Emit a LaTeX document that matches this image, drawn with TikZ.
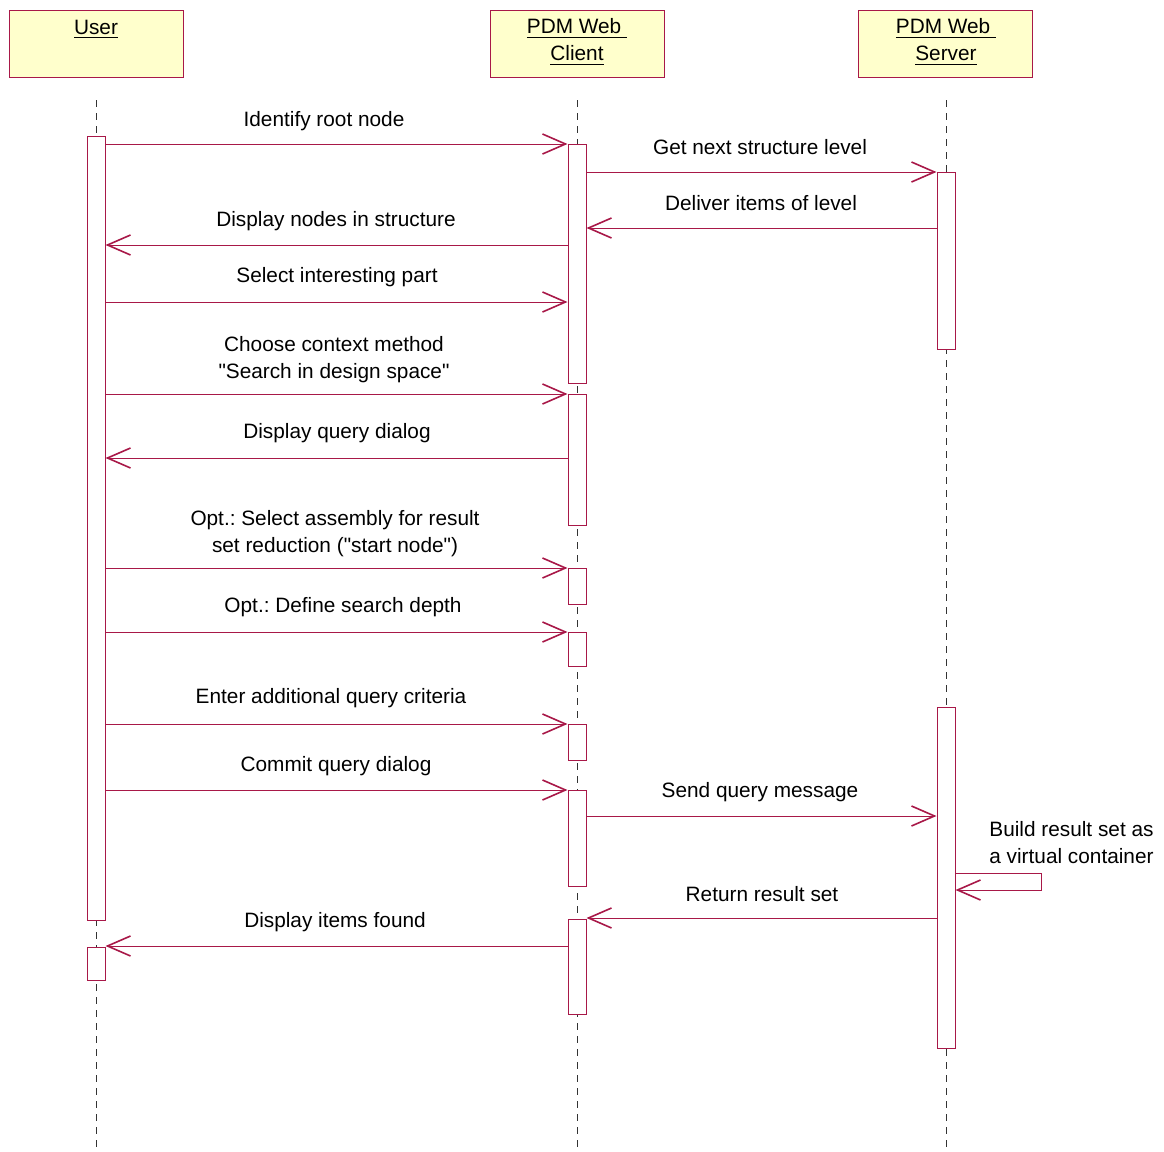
\documentclass[tikz,border=0pt]{standalone}
\usepackage{fontspec}
\setmainfont{Liberation Sans}
\usetikzlibrary{arrows.meta,fit}
\definecolor{umlred}{RGB}{168,24,72}
\definecolor{umlyellow}{RGB}{255,255,204}
\frenchspacing
\begin{document}
\begin{tikzpicture}[x=0.5pt, y=-0.5pt,
		every node/.style={font=\fontsize{10.4}{13.5}\selectfont},
		actor/.style={draw=umlred, fill=umlyellow, line width=0.5pt, inner sep=0pt},
		actbar/.style={draw=umlred, fill=white, line width=0.5pt, inner sep=0pt},
		life/.style={draw=black!80, line width=0.5pt, dash pattern=on 3.5pt off 3pt},
		msg/.style={draw=umlred, line width=0.5pt, -{Straight Barb[length=11.5pt, width=10pt, line width=0.8pt]}},
		msglbl/.style={align=center, inner sep=0pt}]
		\useasboundingbox (0,0) rectangle (1164,1152);
		\node[actor, fit={(9,10) (183,77)}] (user) {};
		\node[actor, fit={(490,10) (664,77)}] (client) {};
		\node[actor, fit={(858,10) (1032,77)}] (server) {};
		\node[msglbl] (userlbl) at (96,29) {\underline{User}};
		\node[msglbl] (clientlbl) at (577,42) {\underline{PDM Web\ }\\\underline{Client}};
		\node[msglbl] (serverlbl) at (946,42) {\underline{PDM Web\ }\\\underline{Server}};
		\draw[life] (96,100) -- (96,1152);
		\draw[life] (577,100) -- (577,1152);
		\draw[life] (946,100) -- (946,1152);
		\node[actbar, fit={(87,136) (105,920)}] (u1) {};
		\node[actbar, fit={(87,947) (105,980)}] (u2) {};
		\node[actbar, fit={(568,144) (586,383)}] (c1) {};
		\node[actbar, fit={(568,394) (586,525)}] (c2) {};
		\node[actbar, fit={(568,568) (586,604)}] (c3) {};
		\node[actbar, fit={(568,632) (586,666)}] (c4) {};
		\node[actbar, fit={(568,724) (586,760)}] (c5) {};
		\node[actbar, fit={(568,790) (586,886)}] (c6) {};
		\node[actbar, fit={(568,919) (586,1014)}] (c7) {};
		\node[actbar, fit={(937,172) (955,349)}] (s1) {};
		\node[actbar, fit={(937,707) (955,1048)}] (s2) {};
		\draw[msg] (u1.east |- 0,144) -- (c1.west |- 0,144);
		\node[msglbl] (m1) at (324,121) {Identify root node};
		\draw[msg] (c1.east |- 0,172) -- (s1.west |- 0,172);
		\node[msglbl] (m2) at (760,147) {Get next structure level};
		\draw[msg] (s1.west |- 0,228) -- (c1.east |- 0,228);
		\node[msglbl] (m3) at (761,203) {Deliver items of level};
		\draw[msg] (c1.west |- 0,245) -- (u1.east |- 0,245);
		\node[msglbl] (m4) at (336,221) {Display nodes in structure};
		\draw[msg] (u1.east |- 0,302) -- (c1.west |- 0,302);
		\node[msglbl] (m5) at (337,277) {Select interesting part};
		\draw[msg] (u1.east |- 0,394) -- (c2.west |- 0,394);
		\node[msglbl] (m6) at (334,360) {Choose context method\\\textquotedbl Search in design space\textquotedbl};
		\draw[msg] (c2.west |- 0,458) -- (u1.east |- 0,458);
		\node[msglbl] (m7) at (337,433) {Display query dialog};
		\draw[msg] (u1.east |- 0,568) -- (c3.west |- 0,568);
		\node[msglbl] (m8) at (335,534) {Opt.: Select assembly for result\\set reduction (\textquotedbl start node\textquotedbl)};
		\draw[msg] (u1.east |- 0,632) -- (c4.west |- 0,632);
		\node[msglbl] (m9) at (343,607) {Opt.: Define search depth};
		\draw[msg] (u1.east |- 0,724) -- (c5.west |- 0,724);
		\node[msglbl] (m10) at (331,698) {Enter additional query criteria};
		\draw[msg] (u1.east |- 0,790) -- (c6.west |- 0,790);
		\node[msglbl] (m11) at (336,766) {Commit query dialog};
		\draw[msg] (c6.east |- 0,816) -- (s2.west |- 0,816);
		\node[msglbl] (m12) at (760,792) {Send query message};
		\draw[msg] (s2.east |- 0,873) -- ++(86,0) -- ++(0,17) -- (s2.east |- 0,890);
		\node[msglbl, anchor=west, align=left] (m13) at (989,843) {Build result set as\\a virtual container};
		\draw[msg] (s2.west |- 0,918) -- (c7.east |- 0,918);
		\node[msglbl] (m14) at (762,894) {Return result set};
		\draw[msg] (c7.west |- 0,946) -- (u2.east |- 0,946);
		\node[msglbl] (m15) at (335,922) {Display items found};
\end{tikzpicture}
\end{document}
